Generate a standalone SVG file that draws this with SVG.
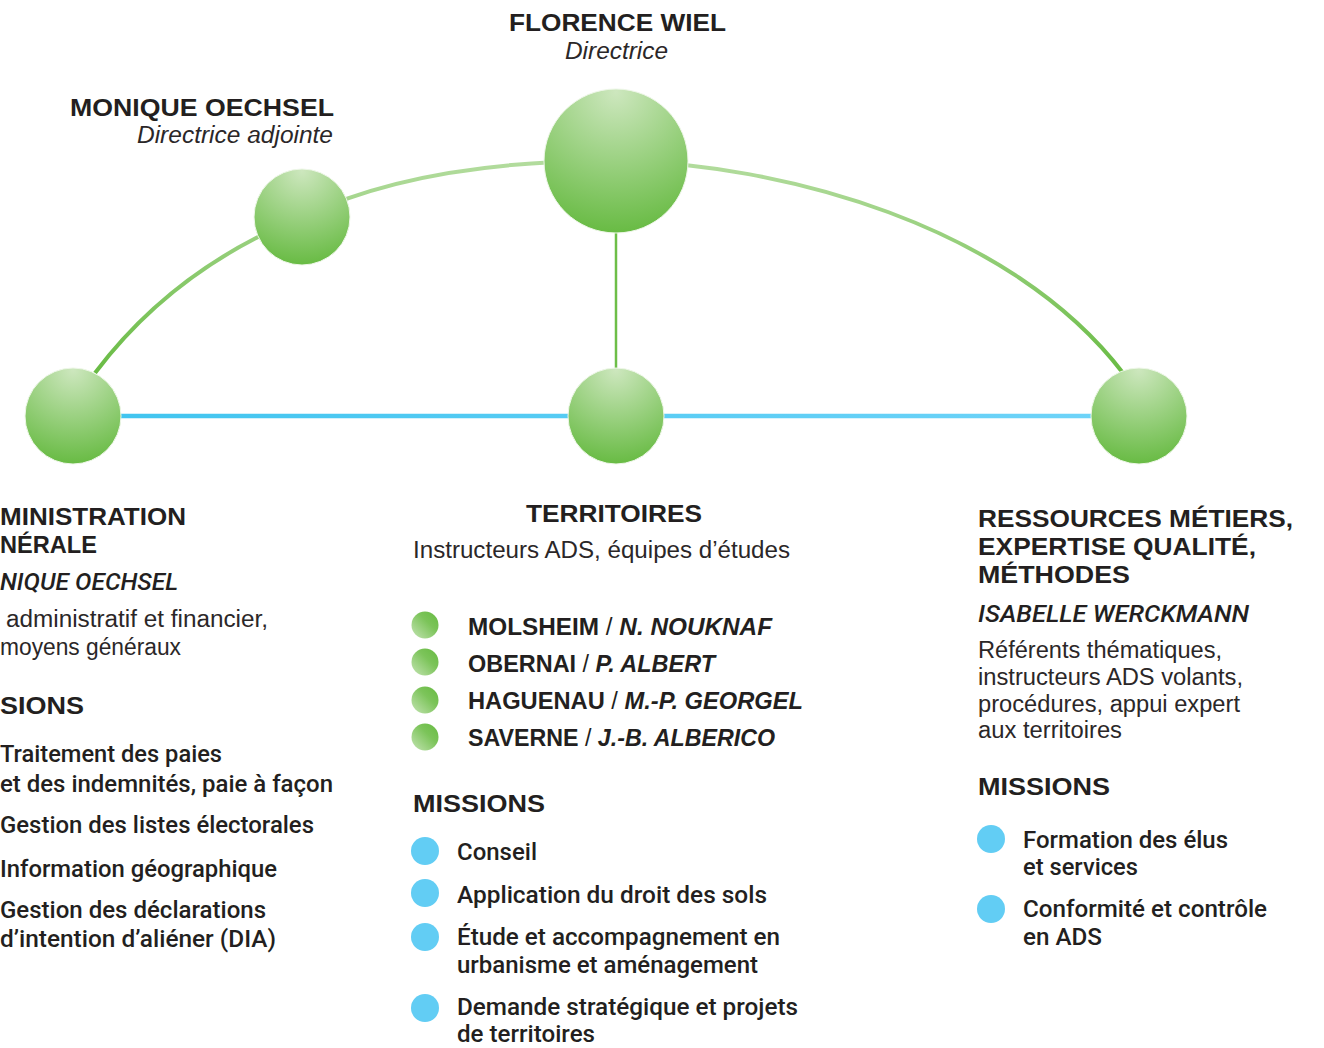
<svg xmlns="http://www.w3.org/2000/svg" width="1324" height="1048" viewBox="0 0 1324 1048">
<style>
text{fill:#231f20;font-size:23px}
.b{font-family:"Liberation Sans",Arial,sans-serif;font-weight:700}
.r{font-family:"Liberation Sans",Arial,sans-serif;font-weight:400;fill:#2b2728}
.m{font-family:Roboto,"Liberation Sans",Arial,sans-serif;font-weight:500}
.i{font-style:italic}
.mi{font-family:Roboto,"Liberation Sans",Arial,sans-serif;font-weight:500;font-style:italic}
.sl{font-weight:400}
.node{fill:url(#gNode);stroke:#eef7e8;stroke-width:1}
.gb{fill:url(#gBullet)}
.bb{fill:#62cdf4}
</style>
<defs>
<radialGradient id="gNode" cx="0.5" cy="0.02" r="1" fx="0.5" fy="0.02">
<stop offset="0" stop-color="#cde7be"/>
<stop offset="1" stop-color="#66ba41"/>
</radialGradient>
<linearGradient id="gBullet" x1="0" y1="1" x2="1" y2="0">
<stop offset="0" stop-color="#c4e4b3"/>
<stop offset="0.6" stop-color="#7cc45a"/>
<stop offset="1" stop-color="#66ba41"/>
</linearGradient>
<linearGradient id="gArc" gradientUnits="userSpaceOnUse" x1="0" y1="160" x2="0" y2="380">
<stop offset="0" stop-color="#b3dc9e"/>
<stop offset="1" stop-color="#66ba41"/>
</linearGradient>
<linearGradient id="gBlue" gradientUnits="userSpaceOnUse" x1="73" y1="0" x2="1139" y2="0">
<stop offset="0" stop-color="#3fc4ef"/>
<stop offset="1" stop-color="#70d4f9"/>
</linearGradient>
</defs>

<g id="connectors">
<path d="M95,373 C150,300 220,250 302,217 C380,180 480,160 616,161 C780,163 1010,225 1123,373" fill="none" stroke="url(#gArc)" stroke-width="4"/>
<line x1="616" y1="233" x2="616" y2="368" stroke="#6dbe48" stroke-width="2.5"/>
<line x1="73" y1="416" x2="1139" y2="416" stroke="url(#gBlue)" stroke-width="4.5"/>
</g>

<g id="node-directrice">
<circle class="node" cx="616" cy="161" r="72"/>
<text class="b" x="509" y="31" textLength="217" lengthAdjust="spacingAndGlyphs">FLORENCE WIEL</text>
<text class="r i" x="565" y="59" textLength="103" lengthAdjust="spacingAndGlyphs">Directrice</text>
</g>

<g id="node-adjointe">
<circle class="node" cx="302" cy="217" r="48"/>
<text class="b" x="70" y="116" textLength="264" lengthAdjust="spacingAndGlyphs">MONIQUE OECHSEL</text>
<text class="r i" x="137" y="143" textLength="196" lengthAdjust="spacingAndGlyphs">Directrice adjointe</text>
</g>

<g id="node-administration">
<circle class="node" cx="73" cy="416" r="48"/>
<text class="b" x="0" y="525" textLength="186" lengthAdjust="spacingAndGlyphs">MINISTRATION</text>
<text class="b" x="0" y="553" textLength="97" lengthAdjust="spacingAndGlyphs">NÉRALE</text>
<text class="mi" x="0" y="590" textLength="178" lengthAdjust="spacingAndGlyphs">NIQUE OECHSEL</text>
<text class="r" x="6" y="627" textLength="262" lengthAdjust="spacingAndGlyphs">administratif et financier,</text>
<text class="r" x="0" y="655" textLength="181" lengthAdjust="spacingAndGlyphs">moyens généraux</text>
<text class="b" x="0" y="714" textLength="84" lengthAdjust="spacingAndGlyphs">SIONS</text>
<text class="m" x="0" y="762" textLength="222" lengthAdjust="spacingAndGlyphs">Traitement des paies</text>
<text class="m" x="0" y="792" textLength="333" lengthAdjust="spacingAndGlyphs">et des indemnités, paie à façon</text>
<text class="m" x="0" y="833" textLength="314" lengthAdjust="spacingAndGlyphs">Gestion des listes électorales</text>
<text class="m" x="0" y="877" textLength="277" lengthAdjust="spacingAndGlyphs">Information géographique</text>
<text class="m" x="0" y="918" textLength="266" lengthAdjust="spacingAndGlyphs">Gestion des déclarations</text>
<text class="m" x="0" y="947" textLength="276" lengthAdjust="spacingAndGlyphs">d’intention d’aliéner (DIA)</text>
</g>

<g id="node-territoires">
<circle class="node" cx="616" cy="416" r="48"/>
<text class="b" x="526" y="522" textLength="176" lengthAdjust="spacingAndGlyphs">TERRITOIRES</text>
<text class="r" x="413" y="558" textLength="377" lengthAdjust="spacingAndGlyphs">Instructeurs ADS, équipes d’études</text>
<circle class="gb" cx="425" cy="625" r="13.5"/>
<circle class="gb" cx="425" cy="662" r="13.5"/>
<circle class="gb" cx="425" cy="700" r="13.5"/>
<circle class="gb" cx="425" cy="737" r="13.5"/>
<text class="b" x="468" y="635" textLength="304" lengthAdjust="spacingAndGlyphs">MOLSHEIM <tspan class="sl">/</tspan> <tspan class="i">N. NOUKNAF</tspan></text>
<text class="b" x="468" y="672" textLength="247" lengthAdjust="spacingAndGlyphs">OBERNAI <tspan class="sl">/</tspan> <tspan class="i">P. ALBERT</tspan></text>
<text class="b" x="468" y="709" textLength="335" lengthAdjust="spacingAndGlyphs">HAGUENAU <tspan class="sl">/</tspan> <tspan class="i">M.-P. GEORGEL</tspan></text>
<text class="b" x="468" y="746" textLength="307" lengthAdjust="spacingAndGlyphs">SAVERNE <tspan class="sl">/</tspan> <tspan class="i">J.-B. ALBERICO</tspan></text>
<text class="b" x="413" y="812" textLength="132" lengthAdjust="spacingAndGlyphs">MISSIONS</text>
<circle class="bb" cx="425" cy="851" r="14"/>
<circle class="bb" cx="425" cy="893" r="14"/>
<circle class="bb" cx="425" cy="937" r="14"/>
<circle class="bb" cx="425" cy="1008" r="14"/>
<text class="m" x="457" y="860" textLength="80" lengthAdjust="spacingAndGlyphs">Conseil</text>
<text class="m" x="457" y="903" textLength="310" lengthAdjust="spacingAndGlyphs">Application du droit des sols</text>
<text class="m" x="457" y="945" textLength="323" lengthAdjust="spacingAndGlyphs">Étude et accompagnement en</text>
<text class="m" x="457" y="973" textLength="301" lengthAdjust="spacingAndGlyphs">urbanisme et aménagement</text>
<text class="m" x="457" y="1015" textLength="341" lengthAdjust="spacingAndGlyphs">Demande stratégique et projets</text>
<text class="m" x="457" y="1042" textLength="138" lengthAdjust="spacingAndGlyphs">de territoires</text>
</g>

<g id="node-ressources">
<circle class="node" cx="1139" cy="416" r="48"/>
<text class="b" x="978" y="527" textLength="315" lengthAdjust="spacingAndGlyphs">RESSOURCES MÉTIERS,</text>
<text class="b" x="978" y="555" textLength="278" lengthAdjust="spacingAndGlyphs">EXPERTISE QUALITÉ,</text>
<text class="b" x="978" y="583" textLength="152" lengthAdjust="spacingAndGlyphs">MÉTHODES</text>
<text class="mi" x="978" y="622" textLength="271" lengthAdjust="spacingAndGlyphs">ISABELLE WERCKMANN</text>
<text class="r" x="978" y="658" textLength="244" lengthAdjust="spacingAndGlyphs">Référents thématiques,</text>
<text class="r" x="978" y="685" textLength="265" lengthAdjust="spacingAndGlyphs">instructeurs ADS volants,</text>
<text class="r" x="978" y="712" textLength="262" lengthAdjust="spacingAndGlyphs">procédures, appui expert</text>
<text class="r" x="978" y="738" textLength="144" lengthAdjust="spacingAndGlyphs">aux territoires</text>
<text class="b" x="978" y="795" textLength="132" lengthAdjust="spacingAndGlyphs">MISSIONS</text>
<circle class="bb" cx="991" cy="839" r="14"/>
<circle class="bb" cx="991" cy="909" r="14"/>
<text class="m" x="1023" y="848" textLength="205" lengthAdjust="spacingAndGlyphs">Formation des élus</text>
<text class="m" x="1023" y="875" textLength="115" lengthAdjust="spacingAndGlyphs">et services</text>
<text class="m" x="1023" y="917" textLength="244" lengthAdjust="spacingAndGlyphs">Conformité et contrôle</text>
<text class="m" x="1023" y="945" textLength="79" lengthAdjust="spacingAndGlyphs">en ADS</text>
</g>
</svg>
